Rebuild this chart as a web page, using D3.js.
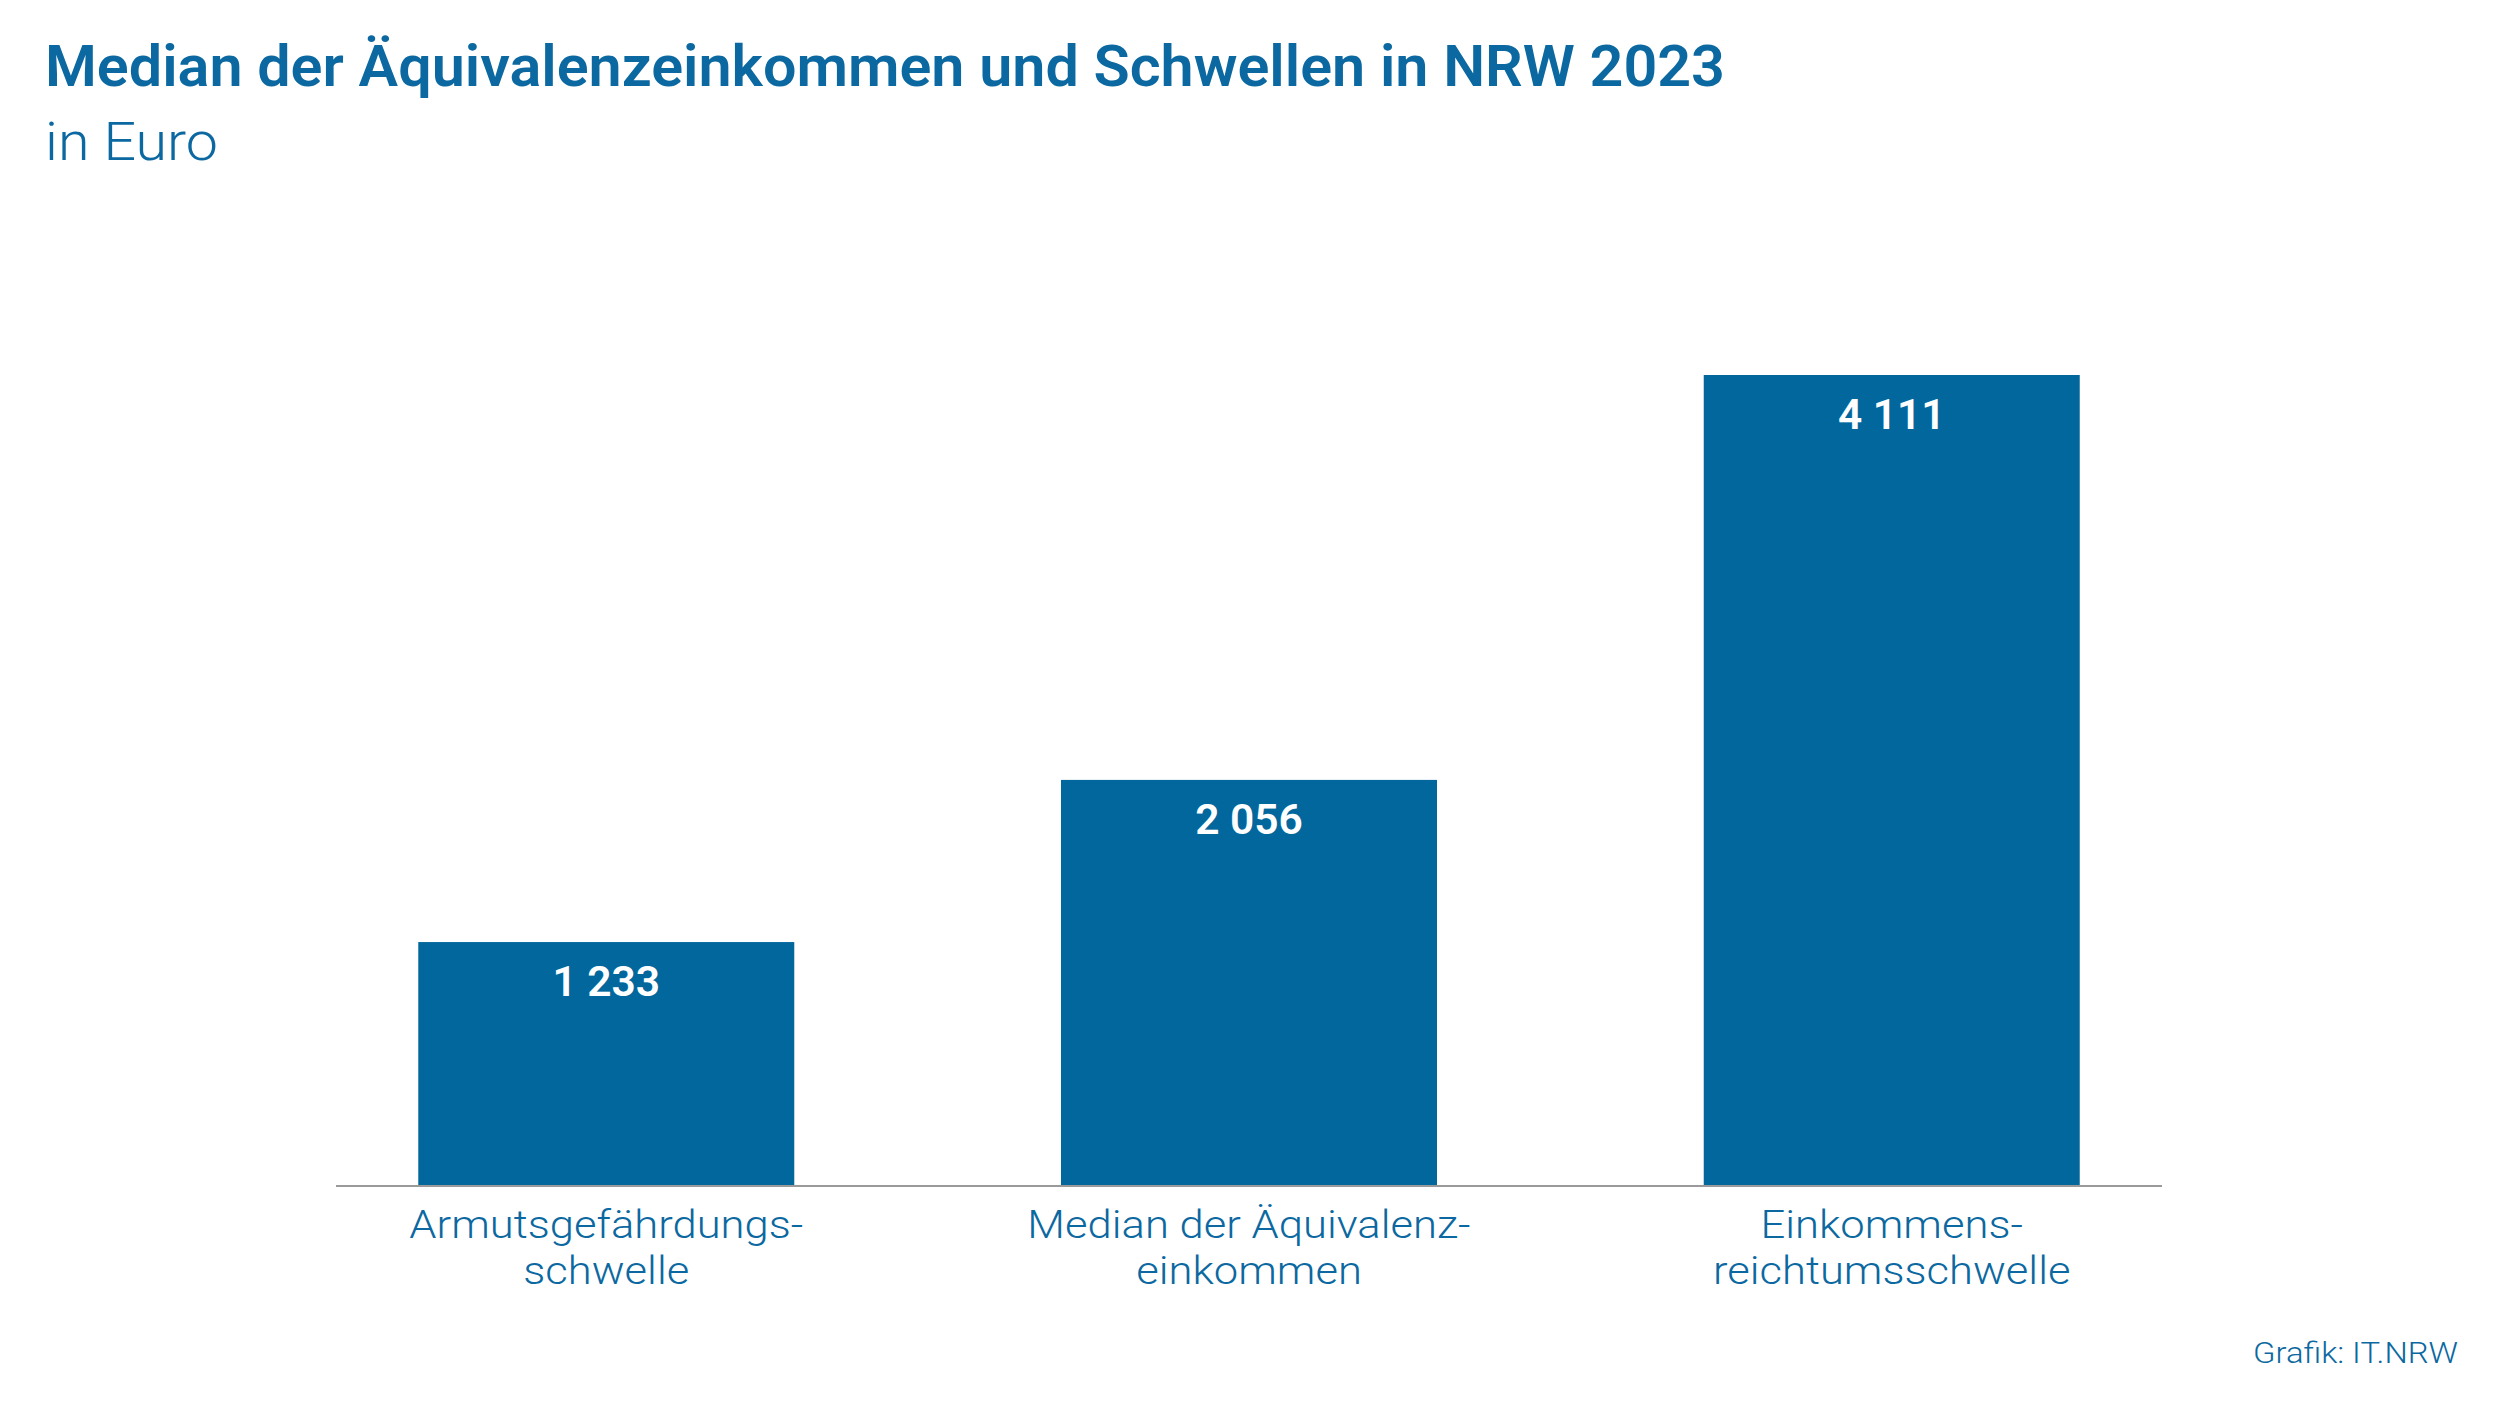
<!DOCTYPE html>
<html><head><meta charset="utf-8">
<script src="https://cdn.jsdelivr.net/npm/d3@7"></script>
<style>body{margin:0;background:#fff}svg{display:block}</style>
</head><body>
<svg id="c" width="2500" height="1406"></svg>
<script>
const categories = [["Armutsgefährdungs-","schwelle"],["Median der Äquivalenz-","einkommen"],["Einkommens-","reichtumsschwelle"]];
const values = [1233, 2056, 4111];
const valueLabels = ["1 233","2 056","4 111"];
const title = "Median der Äquivalenzeinkommen und Schwellen in NRW 2023";
const subtitle = "in Euro";
const source = "Grafik: IT.NRW";

const blue = "#02679d", textBlue = "#0b68a0";
const svg = d3.select("#c");
const font = "Roboto, 'Noto Sans', sans-serif";
const x = d3.scaleBand().domain(d3.range(values.length)).range([336, 2162]).paddingInner(0.415).paddingOuter(0.128);
const y = d3.scaleLinear().domain([0, 4111]).range([1185, 375]);

function condense(sel, k){ sel.each(function(){ const w=this.getComputedTextLength(); this.setAttribute("textLength", w*k); this.setAttribute("lengthAdjust","spacingAndGlyphs");}); }

const t = svg.append("text").attr("x",45).attr("y",86).attr("font-family",font).attr("font-weight",600).attr("font-size",57).attr("fill",textBlue).text(title);
const K = 1680/t.node().getComputedTextLength();
condense(t, K);
svg.append("text").attr("x",45).attr("y",160).attr("font-family",font).attr("font-weight",300).attr("font-size",53).attr("fill",textBlue).text(subtitle).call(s=>condense(s,173/s.node().getComputedTextLength()));

svg.append("g").selectAll("rect").data(values).join("rect")
  .attr("x",(d,i)=>x(i)).attr("width",x.bandwidth())
  .attr("y",d=>y(d)).attr("height",d=>y(0)-y(d)).attr("fill",blue);

svg.append("line").attr("x1",336).attr("x2",2162).attr("y1",y(0)+1).attr("y2",y(0)+1).attr("stroke","#9a9a9a").attr("stroke-width",2);

svg.append("g").selectAll("text").data(values).join("text")
  .attr("x",(d,i)=>x(i)+x.bandwidth()/2).attr("y",d=>y(d)+54)
  .attr("text-anchor","middle").attr("font-family",font).attr("font-weight",600).attr("font-size",43).attr("fill","#fff")
  .text((d,i)=>valueLabels[i]).call(s=>condense(s,K*0.95));

const cg = svg.append("g");
let KC = null;
categories.forEach((lines,i)=>{
  lines.forEach((ln,j)=>{
    const el = cg.append("text").attr("x",x(i)+x.bandwidth()/2).attr("y",1238+j*46)
      .attr("text-anchor","middle").attr("font-family",font).attr("font-weight",300).attr("font-size",39).attr("fill",textBlue).text(ln);
    if (KC === null) KC = 394/el.node().getComputedTextLength();
    condense(el, KC);
  });
});

svg.append("text").attr("x",2458).attr("y",1363).attr("text-anchor","end").attr("font-family",font).attr("font-weight",300).attr("font-size",30).attr("fill",textBlue).text(source).call(s=>condense(s,205/s.node().getComputedTextLength()));
</script>
</body></html>
